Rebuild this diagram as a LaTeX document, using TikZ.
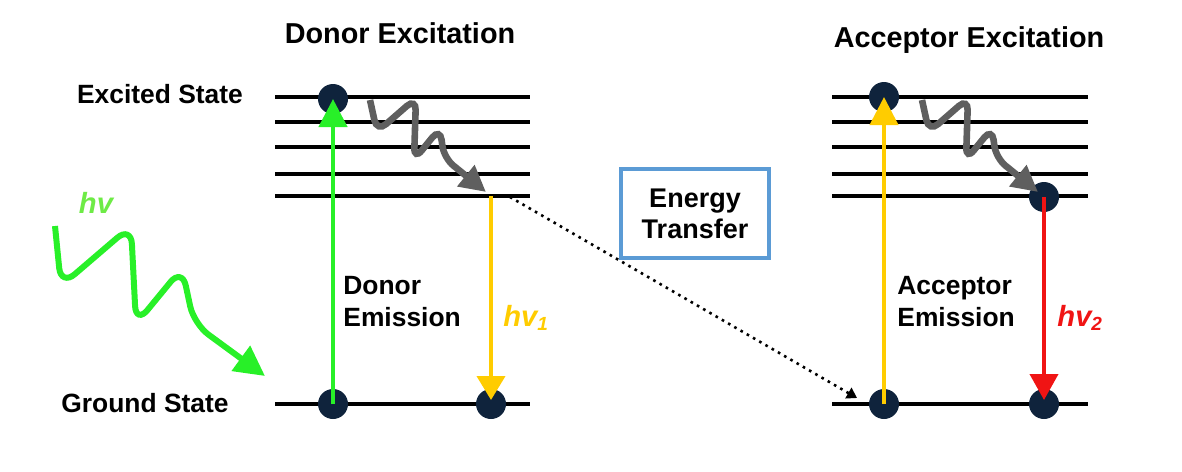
\documentclass[tikz,border=0pt]{standalone}
\usepackage{fontspec}
\setmainfont{Liberation Sans}
\usetikzlibrary{arrows.meta}
\definecolor{navy}{RGB}{15,35,60}
\definecolor{brgreen}{RGB}{40,240,40}
\definecolor{lgreen}{RGB}{110,235,70}
\definecolor{yel}{RGB}{255,204,0}
\definecolor{rd}{RGB}{240,20,20}
\definecolor{gry}{RGB}{95,95,95}
\definecolor{boxblue}{RGB}{91,155,213}
\begin{document}
\begin{tikzpicture}[x=0.5pt,y=-0.5pt,
  level/.style={line width=1.6pt,black},
  dot/.style={circle,fill=navy,minimum size=15pt,inner sep=0pt},
  lbl/.style={font=\fontsize{13.2}{16}\selectfont\bfseries,inner sep=0pt},
  ttl/.style={font=\fontsize{14.4}{17}\selectfont\bfseries,inner sep=0pt},
  hvlbl/.style={font=\fontsize{14.6}{17}\selectfont\bfseries\itshape,inner sep=0pt},
  garrow/.style={line width=2.3pt,brgreen,-{Triangle[length=14pt,width=14pt]}},
  yup/.style={line width=2pt,yel,-{Triangle[length=14pt,width=14pt]}},
  ydown/.style={line width=2pt,yel,-{Triangle[length=12pt,width=14pt]},shorten >=2pt},
  rdown/.style={line width=2pt,rd,-{Triangle[length=13pt,width=14pt]},shorten >=2pt},
  graywave/.style={line width=3.3pt,gry,rounded corners=6pt,-{Triangle[length=13pt,width=13pt]}},
  greenwave/.style={line width=3pt,brgreen,rounded corners=9pt,-{Triangle[length=15pt,width=15pt]}},
  transfer/.style={line width=1.3pt,black,dash pattern=on 1.3pt off 2.3pt,-{Triangle[length=5pt,width=6pt]}},
  etbox/.style={draw=boxblue,line width=2pt,minimum width=74pt,minimum height=44.5pt,inner sep=0pt,align=center,font=\fontsize{13.5}{15.5}\selectfont\bfseries}
]
\useasboundingbox (0,0) rectangle (1182,471);
% energy levels
\foreach \yy in {97,122,147,174,196} {
  \draw[level] (275,\yy) -- (530,\yy);
  \draw[level] (832,\yy) -- (1088,\yy);
}
\draw[level] (275,404) -- (530,404);
\draw[level] (832,404) -- (1088,404);
% titles and labels
\node[ttl,anchor=base] (t1) at (400,43) {Donor Excitation};
\node[ttl,anchor=base] (t2) at (969,47) {Acceptor Excitation};
\node[lbl,anchor=base] (ex) at (160,103) {Excited State};
\node[lbl,anchor=base] (gs) at (145,412) {Ground State};
\node[lbl,align=left,anchor=west] (dem) at (343,302) {Donor\\Emission};
\node[lbl,align=left,anchor=west] (aem) at (897,302) {Acceptor\\Emission};
\node[hvlbl,text=lgreen] (hv) at (96,203) {hv};
\node[hvlbl,text=yel,anchor=base west] (hv1) at (503,326) {hv\raisebox{-2pt}{\fontsize{9.5}{10}\selectfont 1}};
\node[hvlbl,text=rd,anchor=base west] (hv2) at (1057,326) {hv\raisebox{-2pt}{\fontsize{9.5}{10}\selectfont 2}};
\node[etbox] (et) at (695,213.5) {Energy\\Transfer};
% electrons
\node[dot] (dE) at (333,99) {};
\node[dot] (dG1) at (333,404) {};
\node[dot] (dG2) at (491,404) {};
\coordinate (dL) at (491,196);
\node[dot] (aE) at (884,97) {};
\node[dot] (aL) at (1044,197) {};
\node[dot] (aG1) at (884,404) {};
\node[dot] (aG2) at (1044,404) {};
% transitions
\draw[garrow] (dG1.center) -- (dE.center);
\draw[ydown] (dL) -- (dG2.center);
\draw[yup] (aG1.center) -- (aE.center);
\draw[rdown] (aL.center) -- (aG2.center);
% energy transfer
\coordinate (ts) at (510,197);
\coordinate (te) at (857,398);
\draw[transfer] (ts) -- (te);
% relaxation waves
\coordinate (dws) at (370,100);
\coordinate (dwe) at (486,192);
\draw[graywave] (dws) -- ++(7,32) -- ++(39,-34) -- ++(-2,62) -- ++(26,-32) -- ++(4,30) -- (dwe);
\coordinate (aws) at (922,100);
\coordinate (awe) at (1038,192);
\draw[graywave] (aws) -- ++(7,32) -- ++(39,-34) -- ++(-2,62) -- ++(26,-32) -- ++(4,30) -- (awe);
% incoming photon
\coordinate (gws) at (55,226);
\coordinate (gwe) at (265,376);
\draw[greenwave] (gws) -- ++(6,60) -- ++(70,-60) -- ++(5,98) -- ++(46,-56) -- ++(12,56) -- (gwe);
\end{tikzpicture}
\end{document}
